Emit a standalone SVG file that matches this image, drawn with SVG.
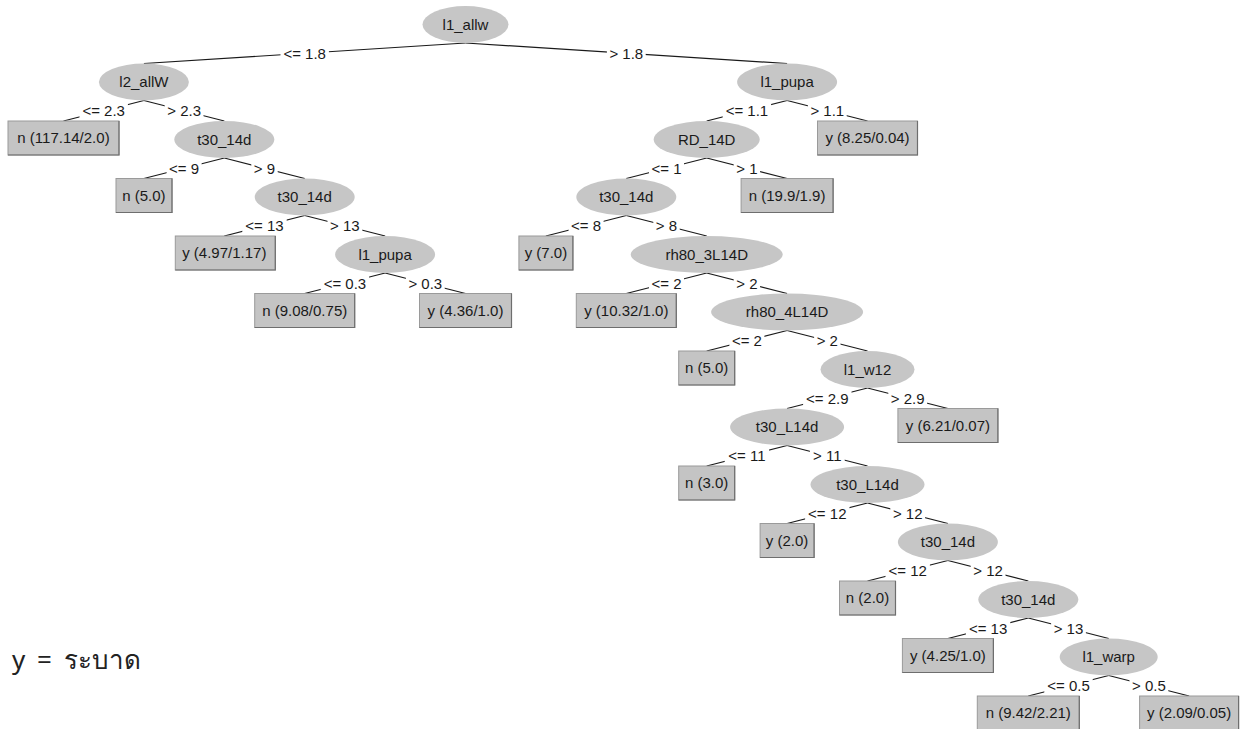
<svg xmlns="http://www.w3.org/2000/svg" width="1243" height="729" viewBox="0 0 1243 729">
<style>
.bg{fill:#ffffff}
.ell{fill:#c6c6c6;stroke:none}
.box{fill:#c4c4c4;stroke:#9a9a9a;stroke-width:1}
.sh{fill:none;stroke:#6e6e6e;stroke-width:1.2}
.t{font-family:"Liberation Sans",Arial,sans-serif;font-size:15px;fill:#1a1a1a;text-anchor:middle}
.e{stroke:#1a1a1a;stroke-width:1.2;fill:none}
.lb{fill:#ffffff}
.lt{font-family:"Liberation Sans",Arial,sans-serif;font-size:15px;fill:#1a1a1a;text-anchor:middle}
.leg{font-family:"Noto Sans","DejaVu Sans",sans-serif;font-size:26px;fill:#222;word-spacing:5px}
</style>
<rect class="bg" x="0" y="0" width="1243" height="729"/>
<g id="connectors">
<line class="e" x1="465.5" y1="43" x2="143.9" y2="63.5"/>
<line class="e" x1="465.5" y1="43" x2="787.1" y2="63.5"/>
<line class="e" x1="143.9" y1="100.5" x2="63.5" y2="121"/>
<line class="e" x1="143.9" y1="100.5" x2="224.3" y2="121"/>
<line class="e" x1="787.1" y1="100.5" x2="706.7" y2="121"/>
<line class="e" x1="787.1" y1="100.5" x2="867.5" y2="121"/>
<line class="e" x1="224.3" y1="158" x2="143.9" y2="178.5"/>
<line class="e" x1="224.3" y1="158" x2="304.7" y2="178.5"/>
<line class="e" x1="706.7" y1="158" x2="626.3" y2="178.5"/>
<line class="e" x1="706.7" y1="158" x2="787.1" y2="178.5"/>
<line class="e" x1="304.7" y1="215.5" x2="224.3" y2="236"/>
<line class="e" x1="304.7" y1="215.5" x2="385.1" y2="236"/>
<line class="e" x1="626.3" y1="215.5" x2="545.9" y2="236"/>
<line class="e" x1="626.3" y1="215.5" x2="706.7" y2="236"/>
<line class="e" x1="385.1" y1="273" x2="304.7" y2="293.5"/>
<line class="e" x1="385.1" y1="273" x2="465.5" y2="293.5"/>
<line class="e" x1="706.7" y1="273" x2="626.3" y2="293.5"/>
<line class="e" x1="706.7" y1="273" x2="787.1" y2="293.5"/>
<line class="e" x1="787.1" y1="330.5" x2="706.7" y2="351"/>
<line class="e" x1="787.1" y1="330.5" x2="867.5" y2="351"/>
<line class="e" x1="867.5" y1="388" x2="787.1" y2="408.5"/>
<line class="e" x1="867.5" y1="388" x2="947.9" y2="408.5"/>
<line class="e" x1="787.1" y1="445.5" x2="706.7" y2="466"/>
<line class="e" x1="787.1" y1="445.5" x2="867.5" y2="466"/>
<line class="e" x1="867.5" y1="503" x2="787.1" y2="523.5"/>
<line class="e" x1="867.5" y1="503" x2="947.9" y2="523.5"/>
<line class="e" x1="947.9" y1="560.5" x2="867.5" y2="581"/>
<line class="e" x1="947.9" y1="560.5" x2="1028.3" y2="581"/>
<line class="e" x1="1028.3" y1="618" x2="947.9" y2="638.5"/>
<line class="e" x1="1028.3" y1="618" x2="1108.7" y2="638.5"/>
<line class="e" x1="1108.7" y1="675.5" x2="1028.3" y2="696"/>
<line class="e" x1="1108.7" y1="675.5" x2="1189.1" y2="696"/>
<g id="edge-labels">
<rect class="lb" x="280.5" y="45.3" width="48.4" height="16"/><text class="lt" x="304.7" y="58.5">&lt;= 1.8</text>
<rect class="lb" x="606.9" y="45.3" width="38.8" height="16"/><text class="lt" x="626.3" y="58.5">&gt; 1.8</text>
<rect class="lb" x="79.5" y="102.8" width="48.4" height="16"/><text class="lt" x="103.7" y="116">&lt;= 2.3</text>
<rect class="lb" x="164.7" y="102.8" width="38.8" height="16"/><text class="lt" x="184.1" y="116">&gt; 2.3</text>
<rect class="lb" x="722.7" y="102.8" width="48.4" height="16"/><text class="lt" x="746.9" y="116">&lt;= 1.1</text>
<rect class="lb" x="807.9" y="102.8" width="38.8" height="16"/><text class="lt" x="827.3" y="116">&gt; 1.1</text>
<rect class="lb" x="166.6" y="160.3" width="35" height="16"/><text class="lt" x="184.1" y="173.5">&lt;= 9</text>
<rect class="lb" x="251.3" y="160.3" width="26.4" height="16"/><text class="lt" x="264.5" y="173.5">&gt; 9</text>
<rect class="lb" x="649" y="160.3" width="35" height="16"/><text class="lt" x="666.5" y="173.5">&lt;= 1</text>
<rect class="lb" x="733.7" y="160.3" width="26.4" height="16"/><text class="lt" x="746.9" y="173.5">&gt; 1</text>
<rect class="lb" x="242.3" y="217.8" width="44.4" height="16"/><text class="lt" x="264.5" y="231">&lt;= 13</text>
<rect class="lb" x="327.5" y="217.8" width="34.8" height="16"/><text class="lt" x="344.9" y="231">&gt; 13</text>
<rect class="lb" x="568.6" y="217.8" width="35" height="16"/><text class="lt" x="586.1" y="231">&lt;= 8</text>
<rect class="lb" x="653.3" y="217.8" width="26.4" height="16"/><text class="lt" x="666.5" y="231">&gt; 8</text>
<rect class="lb" x="320.7" y="275.3" width="48.4" height="16"/><text class="lt" x="344.9" y="288.5">&lt;= 0.3</text>
<rect class="lb" x="405.9" y="275.3" width="38.8" height="16"/><text class="lt" x="425.3" y="288.5">&gt; 0.3</text>
<rect class="lb" x="649" y="275.3" width="35" height="16"/><text class="lt" x="666.5" y="288.5">&lt;= 2</text>
<rect class="lb" x="733.7" y="275.3" width="26.4" height="16"/><text class="lt" x="746.9" y="288.5">&gt; 2</text>
<rect class="lb" x="729.4" y="332.8" width="35" height="16"/><text class="lt" x="746.9" y="346">&lt;= 2</text>
<rect class="lb" x="814.1" y="332.8" width="26.4" height="16"/><text class="lt" x="827.3" y="346">&gt; 2</text>
<rect class="lb" x="803.1" y="390.3" width="48.4" height="16"/><text class="lt" x="827.3" y="403.5">&lt;= 2.9</text>
<rect class="lb" x="888.3" y="390.3" width="38.8" height="16"/><text class="lt" x="907.7" y="403.5">&gt; 2.9</text>
<rect class="lb" x="724.7" y="447.8" width="44.4" height="16"/><text class="lt" x="746.9" y="461">&lt;= 11</text>
<rect class="lb" x="809.9" y="447.8" width="34.8" height="16"/><text class="lt" x="827.3" y="461">&gt; 11</text>
<rect class="lb" x="805.1" y="505.3" width="44.4" height="16"/><text class="lt" x="827.3" y="518.5">&lt;= 12</text>
<rect class="lb" x="890.3" y="505.3" width="34.8" height="16"/><text class="lt" x="907.7" y="518.5">&gt; 12</text>
<rect class="lb" x="885.5" y="562.8" width="44.4" height="16"/><text class="lt" x="907.7" y="576">&lt;= 12</text>
<rect class="lb" x="970.7" y="562.8" width="34.8" height="16"/><text class="lt" x="988.1" y="576">&gt; 12</text>
<rect class="lb" x="965.9" y="620.3" width="44.4" height="16"/><text class="lt" x="988.1" y="633.5">&lt;= 13</text>
<rect class="lb" x="1051.1" y="620.3" width="34.8" height="16"/><text class="lt" x="1068.5" y="633.5">&gt; 13</text>
<rect class="lb" x="1044.3" y="677.8" width="48.4" height="16"/><text class="lt" x="1068.5" y="691">&lt;= 0.5</text>
<rect class="lb" x="1129.5" y="677.8" width="38.8" height="16"/><text class="lt" x="1148.9" y="691">&gt; 0.5</text>
</g>
</g>
<g id="n-root"><ellipse class="ell" cx="465.5" cy="24.5" rx="43" ry="18.5"/><text class="t" x="465.5" y="29.5">l1_allw</text></g>
<g id="n-l2allW"><ellipse class="ell" cx="143.9" cy="82" rx="45" ry="18.5"/><text class="t" x="143.9" y="87">l2_allW</text></g>
<g id="n-l1pupa"><ellipse class="ell" cx="787.1" cy="82" rx="50" ry="18.5"/><text class="t" x="787.1" y="87">l1_pupa</text></g>
<g id="leaf-1"><rect class="box" x="8" y="121" width="111" height="34"/><polyline class="sh" points="8,155 119,155 119,121"/><text class="t" x="63.5" y="143">n (117.14/2.0)</text></g>
<g id="n-t30a"><ellipse class="ell" cx="224.3" cy="139.5" rx="50" ry="18.5"/><text class="t" x="224.3" y="144.5">t30_14d</text></g>
<g id="n-rd14d"><ellipse class="ell" cx="706.7" cy="139.5" rx="53" ry="18.5"/><text class="t" x="706.7" y="144.5">RD_14D</text></g>
<g id="leaf-2"><rect class="box" x="817.5" y="121" width="100" height="34"/><polyline class="sh" points="817.5,155 917.5,155 917.5,121"/><text class="t" x="867.5" y="143">y (8.25/0.04)</text></g>
<g id="leaf-3"><rect class="box" x="116" y="178.5" width="56" height="34"/><polyline class="sh" points="116,212.5 172,212.5 172,178.5"/><text class="t" x="143.9" y="200.5">n (5.0)</text></g>
<g id="n-t30b"><ellipse class="ell" cx="304.7" cy="197" rx="50" ry="18.5"/><text class="t" x="304.7" y="202">t30_14d</text></g>
<g id="n-t30c"><ellipse class="ell" cx="626.3" cy="197" rx="50" ry="18.5"/><text class="t" x="626.3" y="202">t30_14d</text></g>
<g id="leaf-4"><rect class="box" x="741.1" y="178.5" width="92" height="34"/><polyline class="sh" points="741.1,212.5 833.1,212.5 833.1,178.5"/><text class="t" x="787.1" y="200.5">n (19.9/1.9)</text></g>
<g id="leaf-5"><rect class="box" x="175.3" y="236" width="100" height="34"/><polyline class="sh" points="175.3,270 275.3,270 275.3,236"/><text class="t" x="224.3" y="258">y (4.97/1.17)</text></g>
<g id="n-l1pupa2"><ellipse class="ell" cx="385.1" cy="254.5" rx="50" ry="18.5"/><text class="t" x="385.1" y="259.5">l1_pupa</text></g>
<g id="leaf-6"><rect class="box" x="518.9" y="236" width="54" height="34"/><polyline class="sh" points="518.9,270 572.9,270 572.9,236"/><text class="t" x="545.9" y="258">y (7.0)</text></g>
<g id="n-rh3"><ellipse class="ell" cx="706.7" cy="254.5" rx="76" ry="18.5"/><text class="t" x="706.7" y="259.5">rh80_3L14D</text></g>
<g id="leaf-7"><rect class="box" x="254.7" y="293.5" width="100" height="34"/><polyline class="sh" points="254.7,327.5 354.7,327.5 354.7,293.5"/><text class="t" x="304.7" y="315.5">n (9.08/0.75)</text></g>
<g id="leaf-8"><rect class="box" x="419.5" y="293.5" width="92" height="34"/><polyline class="sh" points="419.5,327.5 511.5,327.5 511.5,293.5"/><text class="t" x="465.5" y="315.5">y (4.36/1.0)</text></g>
<g id="leaf-9"><rect class="box" x="576.3" y="293.5" width="100" height="34"/><polyline class="sh" points="576.3,327.5 676.3,327.5 676.3,293.5"/><text class="t" x="626.3" y="315.5">y (10.32/1.0)</text></g>
<g id="n-rh4"><ellipse class="ell" cx="787.1" cy="312" rx="76" ry="18.5"/><text class="t" x="787.1" y="317">rh80_4L14D</text></g>
<g id="leaf-10"><rect class="box" x="678.7" y="351" width="56" height="34"/><polyline class="sh" points="678.7,385 734.7,385 734.7,351"/><text class="t" x="706.7" y="373">n (5.0)</text></g>
<g id="n-w12"><ellipse class="ell" cx="867.5" cy="369.5" rx="47" ry="18.5"/><text class="t" x="867.5" y="374.5">l1_w12</text></g>
<g id="n-t30L1"><ellipse class="ell" cx="787.1" cy="427" rx="57" ry="18.5"/><text class="t" x="787.1" y="432">t30_L14d</text></g>
<g id="leaf-11"><rect class="box" x="897.9" y="408.5" width="100" height="34"/><polyline class="sh" points="897.9,442.5 997.9,442.5 997.9,408.5"/><text class="t" x="947.9" y="430.5">y (6.21/0.07)</text></g>
<g id="leaf-12"><rect class="box" x="678.7" y="466" width="56" height="34"/><polyline class="sh" points="678.7,500 734.7,500 734.7,466"/><text class="t" x="706.7" y="488">n (3.0)</text></g>
<g id="n-t30L2"><ellipse class="ell" cx="867.5" cy="484.5" rx="57" ry="18.5"/><text class="t" x="867.5" y="489.5">t30_L14d</text></g>
<g id="leaf-13"><rect class="box" x="760.1" y="523.5" width="54" height="34"/><polyline class="sh" points="760.1,557.5 814.1,557.5 814.1,523.5"/><text class="t" x="787.1" y="545.5">y (2.0)</text></g>
<g id="n-t30d"><ellipse class="ell" cx="947.9" cy="542" rx="50" ry="18.5"/><text class="t" x="947.9" y="547">t30_14d</text></g>
<g id="leaf-14"><rect class="box" x="839.5" y="581" width="56" height="34"/><polyline class="sh" points="839.5,615 895.5,615 895.5,581"/><text class="t" x="867.5" y="603">n (2.0)</text></g>
<g id="n-t30e"><ellipse class="ell" cx="1028.3" cy="599.5" rx="50" ry="18.5"/><text class="t" x="1028.3" y="604.5">t30_14d</text></g>
<g id="leaf-15"><rect class="box" x="902.4" y="638.5" width="91" height="34"/><polyline class="sh" points="902.4,672.5 993.4,672.5 993.4,638.5"/><text class="t" x="947.9" y="660.5">y (4.25/1.0)</text></g>
<g id="n-warp"><ellipse class="ell" cx="1108.7" cy="657" rx="49" ry="18.5"/><text class="t" x="1108.7" y="662">l1_warp</text></g>
<g id="leaf-16"><rect class="box" x="977.3" y="696" width="102" height="34"/><polyline class="sh" points="977.3,730 1079.3,730 1079.3,696"/><text class="t" x="1028.3" y="718">n (9.42/2.21)</text></g>
<g id="leaf-17"><rect class="box" x="1139.6" y="696" width="99" height="34"/><polyline class="sh" points="1139.6,730 1238.6,730 1238.6,696"/><text class="t" x="1189.1" y="718">y (2.09/0.05)</text></g>
<g id="legend"><text class="leg" x="12" y="669">y = ระบาด</text></g>
</svg>
